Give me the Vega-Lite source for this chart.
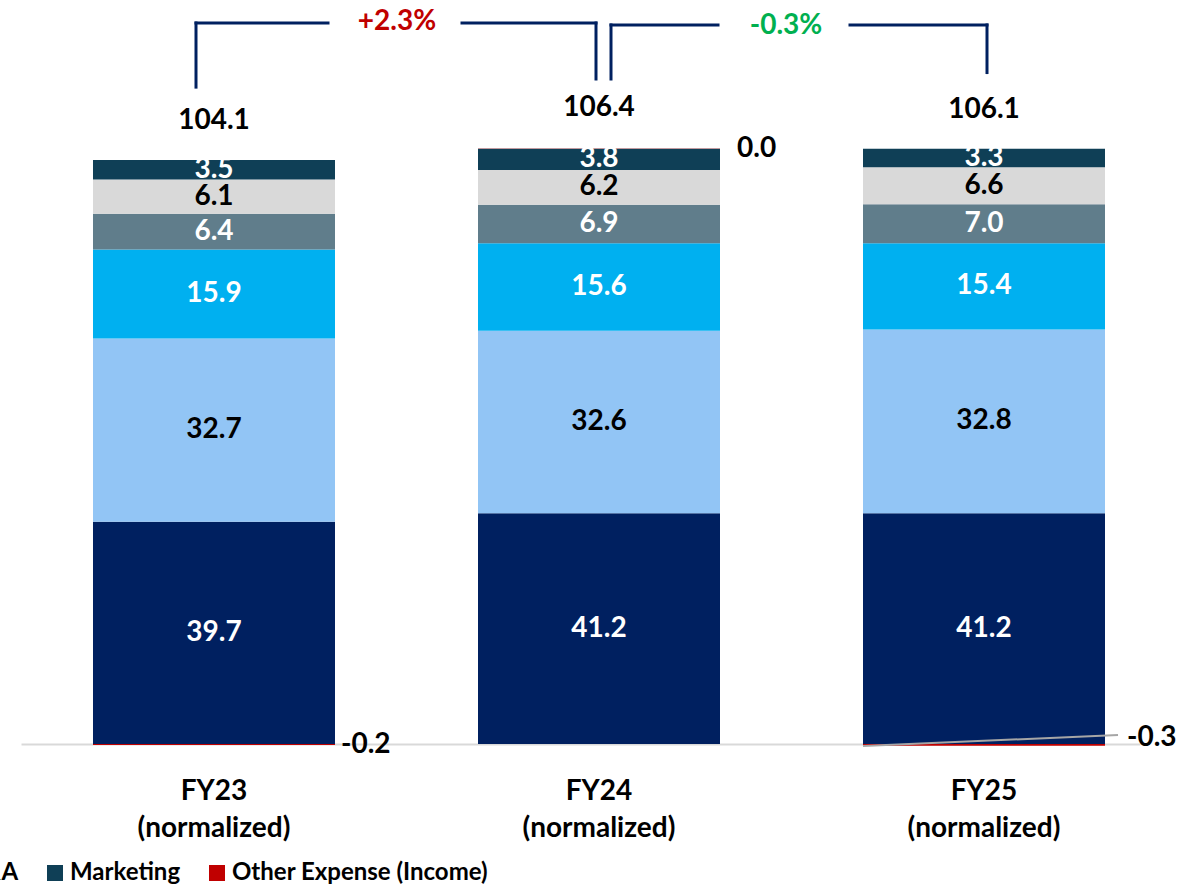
{
  "$schema": "https://vega.github.io/schema/vega-lite/v6.json",
  "width": 1119,
  "height": 728,
  "autosize": {"type": "none"},
  "padding": {"left": 21, "top": 16, "right": 51, "bottom": 145},
  "background": "white",
  "config": {
    "view": {"stroke": null},
    "font": "Lato",
    "text": {"font": "Lato", "fontWeight": "bold"},
    "locale": {"number": {"decimal": ".", "thousands": ",", "grouping": [3], "currency": ["$", ""], "minus": "-"}}
  },
  "datasets": {
    "costs": [
      {"year": "FY23", "series": "Compensation & Benefits", "o": 1, "value": 39.7},
      {"year": "FY23", "series": "Technology & Communications", "o": 2, "value": 32.7},
      {"year": "FY23", "series": "Occupancy & Equipment", "o": 3, "value": 15.9},
      {"year": "FY23", "series": "Professional Fees", "o": 4, "value": 6.4},
      {"year": "FY23", "series": "G&A", "o": 5, "value": 6.1},
      {"year": "FY23", "series": "Marketing", "o": 6, "value": 3.5},
      {"year": "FY23", "series": "Other Expense (Income)", "o": 7, "value": -0.2},
      {"year": "FY24", "series": "Compensation & Benefits", "o": 1, "value": 41.2},
      {"year": "FY24", "series": "Technology & Communications", "o": 2, "value": 32.6},
      {"year": "FY24", "series": "Occupancy & Equipment", "o": 3, "value": 15.6},
      {"year": "FY24", "series": "Professional Fees", "o": 4, "value": 6.9},
      {"year": "FY24", "series": "G&A", "o": 5, "value": 6.2},
      {"year": "FY24", "series": "Marketing", "o": 6, "value": 3.8},
      {"year": "FY24", "series": "Other Expense (Income)", "o": 7, "value": 0.04},
      {"year": "FY25", "series": "Compensation & Benefits", "o": 1, "value": 41.2},
      {"year": "FY25", "series": "Technology & Communications", "o": 2, "value": 32.8},
      {"year": "FY25", "series": "Occupancy & Equipment", "o": 3, "value": 15.4},
      {"year": "FY25", "series": "Professional Fees", "o": 4, "value": 7.0},
      {"year": "FY25", "series": "G&A", "o": 5, "value": 6.6},
      {"year": "FY25", "series": "Marketing", "o": 6, "value": 3.3},
      {"year": "FY25", "series": "Other Expense (Income)", "o": 7, "value": -0.3}
    ],
    "totals": [
      {"year": "FY23", "total": 104.1},
      {"year": "FY24", "total": 106.4},
      {"year": "FY25", "total": 106.1}
    ],
    "changes": [
      {"from": "FY23", "to": "FY24", "change": "+2.3%"},
      {"from": "FY24", "to": "FY25", "change": "-0.3%"}
    ]
  },
  "layer": [
    {
      "data": {"name": "costs"},
      "transform": [
        {"stack": "value", "groupby": ["year"], "sort": [{"field": "o"}], "as": ["v0", "v1"]}
      ],
      "mark": {"type": "bar"},
      "encoding": {
        "x": {
          "field": "year", "type": "nominal", "title": null,
          "scale": {"domain": ["FY23", "FY24", "FY25"], "paddingInner": 0.37143, "paddingOuter": 0.13896, "align": 0.6729},
          "axis": {
            "title": null, "labelAngle": 0, "ticks": false,
            "domainColor": "#D9D9D9", "domainWidth": 2,
            "labelFont": "Lato", "labelFontWeight": "bold", "labelFontSize": 28, "labelColor": "#000000",
            "labelExpr": "[datum.label, '(normalized)']",
            "labelLineHeight": 37, "labelPadding": 33
          }
        },
        "y": {"field": "v0", "type": "quantitative", "scale": {"domain": [0, 130], "nice": false, "zero": false}, "axis": null},
        "y2": {"field": "v1"},
        "color": {
          "field": "series", "type": "nominal",
          "scale": {
            "domain": ["Compensation & Benefits", "Technology & Communications", "Occupancy & Equipment", "Professional Fees", "G&A", "Marketing", "Other Expense (Income)"],
            "range": ["#002060", "#92C5F5", "#00B0F0", "#607D8B", "#D9D9D9", "#0F3F56", "#C00000"]
          },
          "legend": {
            "orient": "none", "legendX": -82, "legendY": 845, "direction": "horizontal",
            "title": null,
            "values": ["G&A", "Marketing", "Other Expense (Income)"],
            "symbolType": "square", "symbolSize": 256, "symbolStrokeWidth": 0, "symbolOpacity": 1,
            "labelFont": "Lato", "labelFontSize": 24, "labelFontWeight": "bold", "labelColor": "#000000",
            "labelOffset": 3, "columnPadding": 24, "labelLimit": 400
          }
        }
      }
    },
    {
      "data": {"name": "costs"},
      "transform": [
        {"filter": "datum.series !== 'Other Expense (Income)'"},
        {"stack": "value", "groupby": ["year"], "sort": [{"field": "o"}], "as": ["v0", "v1"]},
        {"calculate": "(datum.v0 + datum.v1) / 2", "as": "mid"}
      ],
      "mark": {"type": "text", "fontSize": 28, "baseline": "middle", "align": "center"},
      "encoding": {
        "x": {"field": "year", "type": "nominal", "title": null, "scale": {"domain": ["FY23", "FY24", "FY25"]}},
        "y": {"field": "mid", "type": "quantitative", "scale": {"domain": [0, 130], "nice": false, "zero": false}},
        "text": {"field": "value", "type": "quantitative", "format": ".1f"},
        "color": {
          "condition": {"test": "datum.series === 'Technology & Communications' || datum.series === 'G&A'", "value": "#000000"},
          "value": "#FFFFFF"
        }
      }
    },
    {
      "data": {"name": "costs"},
      "transform": [
        {"stack": "value", "groupby": ["year"], "sort": [{"field": "o"}], "as": ["v0", "v1"]},
        {"filter": "datum.series === 'Other Expense (Income)' && datum.year === 'FY23'"}
      ],
      "mark": {"type": "text", "fontSize": 28, "baseline": "middle", "align": "left", "xOffset": 127, "color": "#000000"},
      "encoding": {
        "x": {"field": "year", "type": "nominal", "title": null, "scale": {"domain": ["FY23", "FY24", "FY25"]}},
        "y": {"field": "v1", "type": "quantitative", "scale": {"domain": [0, 130], "nice": false, "zero": false}},
        "text": {"field": "value", "type": "quantitative", "format": ".1f"}
      }
    },
    {
      "data": {"name": "costs"},
      "transform": [
        {"stack": "value", "groupby": ["year"], "sort": [{"field": "o"}], "as": ["v0", "v1"]},
        {"filter": "datum.series === 'Other Expense (Income)' && datum.year === 'FY24'"}
      ],
      "mark": {"type": "text", "fontSize": 28, "baseline": "middle", "align": "left", "xOffset": 138, "dy": 1, "color": "#000000"},
      "encoding": {
        "x": {"field": "year", "type": "nominal", "title": null, "scale": {"domain": ["FY23", "FY24", "FY25"]}},
        "y": {"field": "v1", "type": "quantitative", "scale": {"domain": [0, 130], "nice": false, "zero": false}},
        "text": {"field": "value", "type": "quantitative", "format": ".1f"}
      }
    },
    {
      "data": {"name": "costs"},
      "transform": [
        {"stack": "value", "groupby": ["year"], "sort": [{"field": "o"}], "as": ["v0", "v1"]},
        {"filter": "datum.series === 'Other Expense (Income)' && datum.year === 'FY25'"}
      ],
      "mark": {"type": "text", "fontSize": 28, "baseline": "middle", "align": "left", "xOffset": 143, "dy": -8, "color": "#000000"},
      "encoding": {
        "x": {"field": "year", "type": "nominal", "title": null, "scale": {"domain": ["FY23", "FY24", "FY25"]}},
        "y": {"field": "v1", "type": "quantitative", "scale": {"domain": [0, 130], "nice": false, "zero": false}},
        "text": {"field": "value", "type": "quantitative", "format": ".1f"}
      }
    },
    {
      "data": {"name": "costs"},
      "transform": [
        {"filter": "datum.series === 'Other Expense (Income)' && datum.year === 'FY25'"}
      ],
      "mark": {"type": "rule", "color": "#A6A6A6", "strokeWidth": 2, "xOffset": -121, "x2Offset": 134},
      "encoding": {
        "x": {"field": "year", "type": "nominal", "title": null, "scale": {"domain": ["FY23", "FY24", "FY25"]}},
        "x2": {"field": "year"},
        "y": {"datum": -0.35, "type": "quantitative", "scale": {"domain": [0, 130], "nice": false, "zero": false}},
        "y2": {"datum": 1.6}
      }
    },
    {
      "data": {"name": "totals"},
      "mark": {"type": "text", "fontSize": 28, "baseline": "middle", "align": "center", "dy": -40, "color": "#000000"},
      "encoding": {
        "x": {"field": "year", "type": "nominal", "title": null, "scale": {"domain": ["FY23", "FY24", "FY25"]}},
        "y": {"field": "total", "type": "quantitative", "scale": {"domain": [0, 130], "nice": false, "zero": false}},
        "text": {"field": "total", "type": "quantitative", "format": ".1f"}
      }
    },
    {
      "data": {"name": "changes"},
      "transform": [{"filter": "datum.from === 'FY23'"}],
      "layer": [
        {
          "mark": {"type": "rule", "color": "#002060", "strokeWidth": 3, "strokeCap": "square", "xOffset": -18},
          "encoding": {
            "x": {"field": "from", "type": "nominal", "title": null, "scale": {"domain": ["FY23", "FY24", "FY25"]}},
            "y": {"datum": 128.75, "type": "quantitative", "scale": {"domain": [0, 130], "nice": false, "zero": false}},
            "y2": {"datum": 117.3}
          }
        },
        {
          "mark": {"type": "rule", "color": "#002060", "strokeWidth": 3, "strokeCap": "square", "xOffset": -3},
          "encoding": {
            "x": {"field": "to", "type": "nominal", "title": null, "scale": {"domain": ["FY23", "FY24", "FY25"]}},
            "y": {"datum": 128.75, "type": "quantitative", "scale": {"domain": [0, 130], "nice": false, "zero": false}},
            "y2": {"datum": 118.75}
          }
        },
        {
          "mark": {"type": "rule", "color": "#002060", "strokeWidth": 3, "strokeCap": "square", "xOffset": -18, "x2Offset": -271},
          "encoding": {
            "x": {"field": "from", "type": "nominal", "title": null, "scale": {"domain": ["FY23", "FY24", "FY25"]}},
            "x2": {"field": "to"},
            "y": {"datum": 128.75, "type": "quantitative", "scale": {"domain": [0, 130], "nice": false, "zero": false}}
          }
        },
        {
          "mark": {"type": "rule", "color": "#002060", "strokeWidth": 3, "strokeCap": "square", "xOffset": 248, "x2Offset": -3},
          "encoding": {
            "x": {"field": "from", "type": "nominal", "title": null, "scale": {"domain": ["FY23", "FY24", "FY25"]}},
            "x2": {"field": "to"},
            "y": {"datum": 128.75, "type": "quantitative", "scale": {"domain": [0, 130], "nice": false, "zero": false}}
          }
        },
        {
          "mark": {"type": "text", "fontSize": 28, "baseline": "middle", "align": "center", "xOffset": -202, "dy": -1, "color": "#C00000"},
          "encoding": {
            "x": {"field": "to", "type": "nominal", "title": null, "scale": {"domain": ["FY23", "FY24", "FY25"]}},
            "y": {"datum": 128.75, "type": "quantitative", "scale": {"domain": [0, 130], "nice": false, "zero": false}},
            "text": {"field": "change"}
          }
        }
      ]
    },
    {
      "data": {"name": "changes"},
      "transform": [{"filter": "datum.from === 'FY24'"}],
      "layer": [
        {
          "mark": {"type": "rule", "color": "#002060", "strokeWidth": 3, "strokeCap": "square", "xOffset": 12},
          "encoding": {
            "x": {"field": "from", "type": "nominal", "title": null, "scale": {"domain": ["FY23", "FY24", "FY25"]}},
            "y": {"datum": 128.4, "type": "quantitative", "scale": {"domain": [0, 130], "nice": false, "zero": false}},
            "y2": {"datum": 118.75}
          }
        },
        {
          "mark": {"type": "rule", "color": "#002060", "strokeWidth": 3, "strokeCap": "square", "xOffset": 3},
          "encoding": {
            "x": {"field": "to", "type": "nominal", "title": null, "scale": {"domain": ["FY23", "FY24", "FY25"]}},
            "y": {"datum": 128.4, "type": "quantitative", "scale": {"domain": [0, 130], "nice": false, "zero": false}},
            "y2": {"datum": 119.9}
          }
        },
        {
          "mark": {"type": "rule", "color": "#002060", "strokeWidth": 3, "strokeCap": "square", "xOffset": 12, "x2Offset": -266},
          "encoding": {
            "x": {"field": "from", "type": "nominal", "title": null, "scale": {"domain": ["FY23", "FY24", "FY25"]}},
            "x2": {"field": "to"},
            "y": {"datum": 128.4, "type": "quantitative", "scale": {"domain": [0, 130], "nice": false, "zero": false}}
          }
        },
        {
          "mark": {"type": "rule", "color": "#002060", "strokeWidth": 3, "strokeCap": "square", "xOffset": 251, "x2Offset": 3},
          "encoding": {
            "x": {"field": "from", "type": "nominal", "title": null, "scale": {"domain": ["FY23", "FY24", "FY25"]}},
            "x2": {"field": "to"},
            "y": {"datum": 128.4, "type": "quantitative", "scale": {"domain": [0, 130], "nice": false, "zero": false}}
          }
        },
        {
          "mark": {"type": "text", "fontSize": 28, "baseline": "middle", "align": "center", "xOffset": -198, "dy": 1, "color": "#00B050"},
          "encoding": {
            "x": {"field": "to", "type": "nominal", "title": null, "scale": {"domain": ["FY23", "FY24", "FY25"]}},
            "y": {"datum": 128.4, "type": "quantitative", "scale": {"domain": [0, 130], "nice": false, "zero": false}},
            "text": {"field": "change"}
          }
        }
      ]
    }
  ]
}
